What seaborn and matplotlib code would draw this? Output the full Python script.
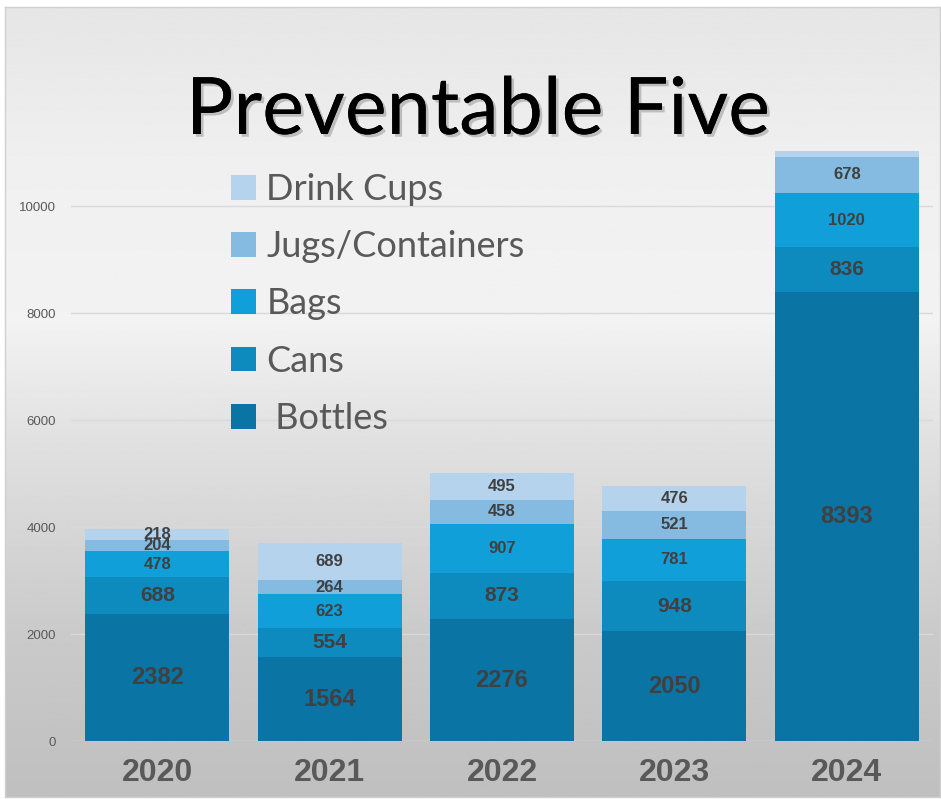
import numpy as np
import pandas as pd
import seaborn as sns
import matplotlib.pyplot as plt
from matplotlib.patches import Patch
import matplotlib.patheffects as pe

# data
years = ["2020", "2021", "2022", "2023", "2024"]
bottles = [2382, 1564, 2276, 2050, 8393]
cans = [688, 554, 873, 948, 836]
bags = [478, 623, 907, 781, 1020]
jugs = [204, 264, 458, 521, 678]
cups = [218, 689, 495, 476, 100]

categories = ["Bottles", "Cans", "Bags", "Jugs/Containers", "Drink Cups"]
legend_labels = [" Bottles", "Cans", "Bags", "Jugs/Containers", "Drink Cups"]
colors = ["#0a74a4", "#0d8bbf", "#119fd9", "#85bae1", "#b5d3ec"]
label_sizes = [17, 15, 12, 12, 12]

df = pd.DataFrame({"Year": years, "Bottles": bottles, "Cans": cans, "Bags": bags,
                   "Jugs/Containers": jugs, "Drink Cups": cups})
cum = df[categories].cumsum(axis=1)

W, H = 941, 799
fig = plt.figure(figsize=(W / 100, H / 100), dpi=100)

# gradient background panel with a thin border
bg = fig.add_axes([5 / W, 2 / H, 935 / W, 790 / H])
stops_y = [0.0, 0.2, 0.45, 0.6, 0.8, 1.0]
stops_v = [0.75, 0.79, 0.88, 0.95, 0.94, 0.90]
yy = np.linspace(0, 1, 400)
grad = np.interp(yy, stops_y, stops_v)[:, None]
bg.imshow(grad, cmap="gray", vmin=0, vmax=1, aspect="auto", origin="lower",
          extent=[0, 1, 0, 1])
bg.set_xticks([])
bg.set_yticks([])
for s in bg.spines.values():
    s.set_color("#d0d0d0")
    s.set_linewidth(1)
bg.set_zorder(0)

ax = fig.add_axes([71 / W, (H - 741) / H, (933 - 71) / W, (741 - 150) / H])
ax.set_zorder(1)
ax.patch.set_alpha(0)

# stacked bars: draw cumulative totals from the top layer down
for i in range(len(categories) - 1, -1, -1):
    sns.barplot(x=df["Year"], y=cum[categories[i]], color=colors[i], saturation=1,
                width=0.835, ax=ax, zorder=2)

for i, cat in enumerate(categories):
    for j in range(len(years)):
        val = df[cat][j]
        if val < 150:
            continue
        base = cum[categories[i - 1]][j] if i > 0 else 0
        ax.text(j, base + val / 2, str(val), ha="center", va="center",
                fontsize=label_sizes[i], fontweight="bold", color="#404040",
                family=["Liberation Sans", "DejaVu Sans"], zorder=3)

ax.set_ylim(0, 11050)
ax.set_yticks([0, 2000, 4000, 6000, 8000, 10000])
ax.grid(axis="y", color="#d9d9d9", linewidth=1, zorder=0)
ax.set_axisbelow(True)
for s in ax.spines.values():
    s.set_visible(False)
ax.set_xlabel("")
ax.set_ylabel("")
ax.tick_params(axis="y", length=0, pad=11, labelsize=9.5, labelcolor="#595959")
ax.tick_params(axis="x", length=0, pad=12)
for t in ax.get_yticklabels():
    t.set_family(["Liberation Sans", "DejaVu Sans"])
for t in ax.get_xticklabels():
    t.set_family(["Liberation Sans Narrow", "Liberation Sans", "DejaVu Sans"])
    t.set_fontsize(23)
    t.set_fontweight("bold")
    t.set_color("#595959")

handles = [Patch(facecolor=colors[i], edgecolor="none", label=legend_labels[i])
           for i in range(len(categories) - 1, -1, -1)]
leg = fig.legend(handles=handles, loc="upper left", bbox_to_anchor=(231 / W, 1 - 173 / H),
                 frameon=False, handlelength=0.68, handleheight=0.68,
                 handletextpad=0.3, labelspacing=0.67, borderpad=0, borderaxespad=0,
                 prop={"family": ["Lato", "DejaVu Sans"], "size": 26})
for t in leg.get_texts():
    t.set_color("#595959")
leg.set_zorder(4)

fig.text(478 / W, 1 - 112 / H, "Preventable Five", ha="center", va="center",
         fontsize=57, color="black", family=["Lato", "DejaVu Sans"], zorder=5,
         path_effects=[pe.withSimplePatchShadow(offset=(2, -2), shadow_rgbFace="#666666",
                                                alpha=0.35), pe.Normal()])

fig.savefig("out.png", dpi=100)
